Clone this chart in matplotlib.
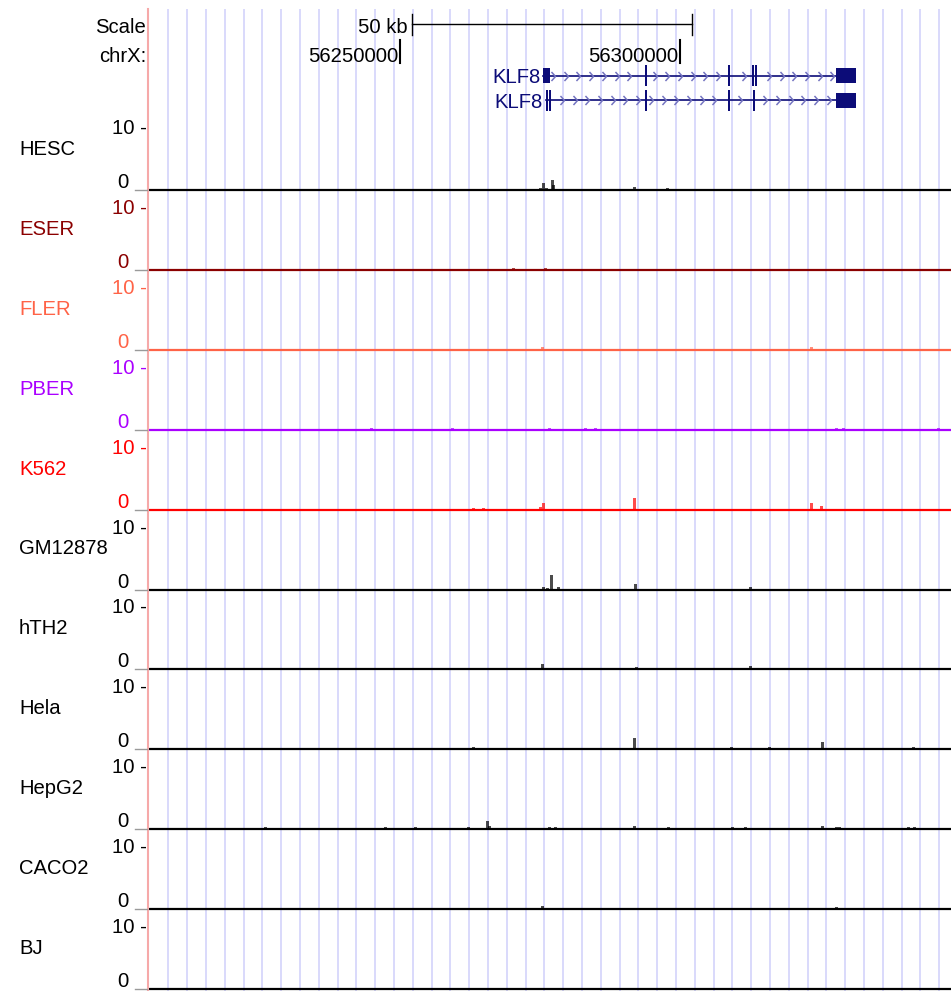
import numpy as np
import matplotlib
matplotlib.use("Agg")
import matplotlib.pyplot as plt
from matplotlib.path import Path
from matplotlib.lines import Line2D

plt.rcParams['font.family'] = ['Liberation Sans', 'DejaVu Sans']

# ---------------- data ----------------
CHROM = "chrX"
VIEW_START, VIEW_END = 56205180, 56348390
SCALE_START, SCALE_LEN = 56252143, 50000
SCALE_LABEL = "50 kb"
CHROM_TICKS = [56250000, 56300000]
Y_MAX = 10

GENE_NAME = "KLF8"
GENE1_EXON_STARTS = [56275590, 56293661, 56308482, 56312860, 56313480, 56327857]
GENE1_EXON_ENDS   = [56276786, 56293839, 56308929, 56313040, 56313660, 56331429]
GENE2_EXON_STARTS = [56275982, 56276607, 56293661, 56308482, 56312946, 56327857]
GENE2_EXON_ENDS   = [56276107, 56276786, 56293839, 56308929, 56313125, 56331429]

TRACK_NAMES = ["HESC", "ESER", "FLER", "PBER", "K562", "GM12878",
               "hTH2", "Hela", "HepG2", "CACO2", "BJ"]
TRACK_COLORS = ["#000000", "#8b0000", "#ff6347", "#aa00ff", "#ff0000", "#000000",
                "#000000", "#000000", "#000000", "#000000", "#000000"]

HESC_POS = [56275000, 56275536, 56276071, 56277143, 56277321, 56291786, 56297679]
HESC_VAL = [0.35, 1.2, 0.35, 1.6, 0.8, 0.5, 0.3]
ESER_POS = [56270304, 56275964]
ESER_VAL = [0.3, 0.35]
FLER_POS = [56275411, 56323464]
FLER_VAL = [0.45, 0.5]
PBER_POS = [56244911, 56259339, 56276607, 56283089, 56284821, 56327946, 56329214, 56346125]
PBER_VAL = [0.3, 0.3, 0.35, 0.3, 0.3, 0.35, 0.3, 0.3]
K562_POS = [56263089, 56264875, 56275125, 56275589, 56291786, 56323482, 56325304]
K562_VAL = [0.3, 0.3, 0.35, 1.1, 1.8, 1.1, 0.6]
GM12878_POS = [56275625, 56276250, 56277089, 56278339, 56291964, 56312500]
GM12878_VAL = [0.35, 0.3, 2.3, 0.35, 0.85, 0.35]
HTH2_POS = [56275518, 56292161, 56312500]
HTH2_VAL = [0.8, 0.4, 0.5]
HELA_POS = [56263179, 56291911, 56309107, 56315946, 56325411, 56341696]
HELA_VAL = [0.3, 1.9, 0.3, 0.3, 1.1, 0.3]
HEPG2_POS = [56226071, 56247429, 56252732, 56262143, 56265536, 56265982, 56276661,
             56277679, 56291857, 56297857, 56309286, 56311696, 56325357, 56327929,
             56328518, 56340714, 56341786]
HEPG2_VAL = [0.35, 0.3, 0.35, 0.4, 1.3, 0.5, 0.35, 0.35, 0.5, 0.4, 0.35, 0.35, 0.5,
             0.4, 0.4, 0.3, 0.3]
CACO2_POS = [56275411, 56327857]
CACO2_VAL = [0.5, 0.4]
BJ_POS = []
BJ_VAL = []

TRACK_POS = [HESC_POS, ESER_POS, FLER_POS, PBER_POS, K562_POS, GM12878_POS,
             HTH2_POS, HELA_POS, HEPG2_POS, CACO2_POS, BJ_POS]
TRACK_VAL = [HESC_VAL, ESER_VAL, FLER_VAL, PBER_VAL, K562_VAL, GM12878_VAL,
             HTH2_VAL, HELA_VAL, HEPG2_VAL, CACO2_VAL, BJ_VAL]

# ---------------- layout ----------------
W, H, DPI = 951, 991, 100
LEFT_PX, RIGHT_PX = 149, 951
FS = 14.6
NAVY = "#0c0c78"


def fx(px):
    return px / W


def fy(py):
    return 1 - py / H


fig = plt.figure(figsize=(W / DPI, H / DPI), dpi=DPI)
fig.patch.set_facecolor("white")

ax0 = fig.add_axes([fx(LEFT_PX), 0, (RIGHT_PX - LEFT_PX) / W, 1])
ax0.set_xlim(VIEW_START, VIEW_END)
ax0.set_ylim(H, 0)
ax0.axis("off")
ax0.patch.set_alpha(0)

bp_per_px = (VIEW_END - VIEW_START) / (RIGHT_PX - LEFT_PX)

# light vertical guide lines
grid_x = np.arange(VIEW_START + 19.4 * bp_per_px, VIEW_END, 18.8 * bp_per_px)
ax0.vlines(grid_x, 9, H, color="#d9d9fb", lw=1.4, zorder=0)

# left pink border
fig.add_artist(Line2D([fx(148), fx(148)], [fy(9), fy(H)], color="#f6a9a9", lw=1.5))

# scale bar
ax0.plot([SCALE_START, SCALE_START + SCALE_LEN], [24, 24], color="black", lw=1)
for xx in (SCALE_START, SCALE_START + SCALE_LEN):
    ax0.plot([xx, xx], [13.5, 35], color="black", lw=1)
ax0.annotate(SCALE_LABEL, xy=(SCALE_START, 33), xytext=(-4, 0), textcoords="offset pixels",
             ha="right", va="baseline", fontsize=FS, color="black")
fig.text(fx(146), fy(33), "Scale", ha="right", va="baseline", fontsize=FS)
fig.text(fx(146), fy(61.7), CHROM + ":", ha="right", va="baseline", fontsize=FS)

for t in CHROM_TICKS:
    ax0.plot([t, t], [40, 62.5], color="black", lw=1.5)
    ax0.annotate(f"{t}", xy=(t, 61.7), xytext=(-2, 0), textcoords="offset pixels",
                 ha="right", va="baseline", fontsize=FS, color="black")

# gene models
chev = Path([(-0.45, 1), (0.45, 0), (-0.45, -1)], [Path.MOVETO, Path.LINETO, Path.LINETO])


def draw_gene(row_y, starts, ends, text_base):
    ax0.plot([starts[0], starts[-1]], [row_y, row_y], color=NAVY, lw=1.2)
    cx = np.arange(ends[0] + 3 * bp_per_px, starts[-1] - 2 * bp_per_px, 12.7 * bp_per_px)
    keep = [c for c in cx if all(not (s - 3 * bp_per_px < c < e + 3 * bp_per_px)
                                 for s, e in zip(starts, ends))]
    ax0.plot(keep, [row_y] * len(keep), linestyle="none", marker=chev, markersize=6.5,
             markerfacecolor="none", markeredgecolor="#7474c0", markeredgewidth=1.1)
    for s, e in zip(starts, ends):
        wpx = (e - s) / bp_per_px
        h = 15 if wpx > 4 else 21
        ax0.bar(s, h, width=max(e - s, 2.0 * bp_per_px), bottom=row_y - h / 2,
                align="edge", color=NAVY, linewidth=0)
    ax0.annotate(GENE_NAME, xy=(starts[0], text_base), xytext=(-3, 0),
                 textcoords="offset pixels", ha="right", va="baseline",
                 fontsize=FS, color=NAVY)


draw_gene(75.5, GENE1_EXON_STARTS, GENE1_EXON_ENDS, 83.3)
draw_gene(100.3, GENE2_EXON_STARTS, GENE2_EXON_ENDS, 108.3)

# signal tracks
for i, (name, col, pos, val) in enumerate(zip(TRACK_NAMES, TRACK_COLORS, TRACK_POS, TRACK_VAL)):
    bl = 190 + 79.9 * i
    ax = fig.add_axes([fx(LEFT_PX), fy(bl), (RIGHT_PX - LEFT_PX) / W, 62 / H])
    ax.set_xlim(VIEW_START, VIEW_END)
    ax.set_ylim(0, Y_MAX)
    ax.axis("off")
    ax.patch.set_alpha(0)
    if len(pos):
        ax.bar(pos, val, width=3 * bp_per_px, color=col, alpha=0.7, linewidth=0, zorder=2)
    ax.axhline(0, color=col, lw=1.6, zorder=3, clip_on=False)

    fig.text(fx(19), fy(bl - 35), name, ha="left", va="baseline", fontsize=FS, color=col)
    fig.text(fx(146.5), fy(bl - 56), f"{Y_MAX} -", ha="right", va="baseline",
             fontsize=FS, color=col)
    fig.text(fx(129), fy(bl - 2), "0", ha="right", va="baseline", fontsize=FS, color=col)
    fig.add_artist(Line2D([fx(135), fx(147)], [fy(bl), fy(bl)], color="#9a9a9a", lw=1))

fig.savefig("out.png", dpi=DPI, facecolor="white")
